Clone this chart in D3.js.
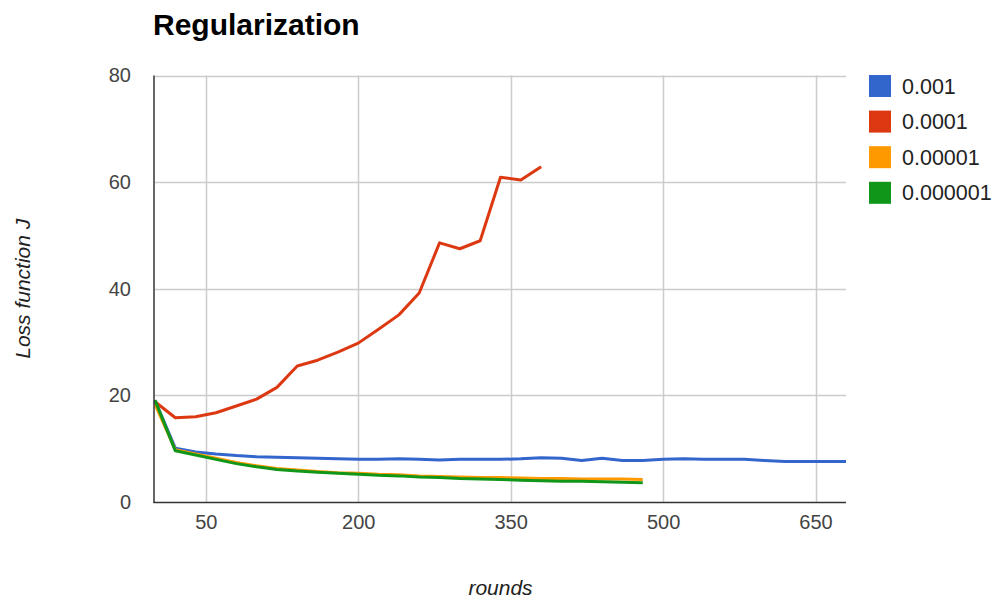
<!DOCTYPE html>
<html>
<head>
<meta charset="utf-8">
<script src="https://cdn.jsdelivr.net/npm/d3@7"></script>
<style>
  html, body { margin: 0; padding: 0; background: #fff; }
  svg { display: block; font-family: "Liberation Sans", Arial, sans-serif; }
</style>
</head>
<body>
<svg id="chart" width="1001" height="601"></svg>
<script>
// Training rounds, sampled every 20 rounds
const roundsLong = d3.range(0, 681, 20);   // 0 .. 680
const roundsRed = d3.range(0, 381, 20);    // 0 .. 380
const roundsShort = d3.range(0, 481, 20);  // 0 .. 480

// Loss function J per regularization strength
const loss0001 = [19.0, 10.1, 9.4, 9.0, 8.7, 8.5, 8.4, 8.3, 8.2, 8.1, 8.0, 8.0, 8.1, 8.0, 7.9, 8.0, 8.0, 8.0,
  8.1, 8.3, 8.2, 7.8, 8.2, 7.8, 7.8, 8.0, 8.1, 8.0, 8.0, 8.0, 7.8, 7.6, 7.6, 7.6, 7.6];
const loss00001 = [18.8, 15.8, 16.0, 16.75, 18.0, 19.3, 21.5, 25.5, 26.6, 28.1, 29.8, 32.4, 35.1, 39.2,
  48.6, 47.5, 49.0, 60.9, 60.4, 62.9];
const loss000001 = [18.3, 9.8, 9.0, 8.2, 7.4, 6.8, 6.3, 6.0, 5.7, 5.5, 5.4, 5.2, 5.1, 4.9, 4.8, 4.7,
  4.6, 4.6, 4.5, 4.4, 4.4, 4.3, 4.3, 4.3, 4.2];
const loss0000001 = [19.1, 9.6, 8.8, 8.0, 7.2, 6.6, 6.1, 5.8, 5.6, 5.4, 5.2, 5.0, 4.9, 4.7, 4.6, 4.4,
  4.3, 4.2, 4.1, 4.0, 3.9, 3.9, 3.8, 3.7, 3.6];

const seriesNames = ["0.001", "0.0001", "0.00001", "0.000001"];
const seriesColors = ["#3366cc", "#dc3912", "#ff9900", "#109618"];
const xTicks = [50, 200, 350, 500, 650];
const yTicks = [0, 20, 40, 60, 80];

const series = [
  { name: seriesNames[0], color: seriesColors[0], xs: roundsLong, ys: loss0001 },
  { name: seriesNames[1], color: seriesColors[1], xs: roundsRed, ys: loss00001 },
  { name: seriesNames[2], color: seriesColors[2], xs: roundsShort, ys: loss000001 },
  { name: seriesNames[3], color: seriesColors[3], xs: roundsShort, ys: loss0000001 }
];

const svg = d3.select("#chart");
const plot = { left: 155, right: 846, top: 75.5, bottom: 502 };

const x = d3.scaleLinear().domain([0, 680]).range([plot.left, plot.right]);
const y = d3.scaleLinear().domain([0, 80]).range([plot.bottom, plot.top]);

// Gridlines
const grid = svg.append("g");
grid.selectAll("line.h").data(yTicks.filter(d => d > 0)).join("line")
  .attr("x1", plot.left).attr("x2", plot.right)
  .attr("y1", d => Math.round(y(d)) + 0.5).attr("y2", d => Math.round(y(d)) + 0.5)
  .attr("stroke", "#cccccc").attr("stroke-width", 1.5);
grid.selectAll("line.v").data(xTicks).join("line")
  .attr("y1", plot.top).attr("y2", plot.bottom)
  .attr("x1", d => Math.round(x(d)) + 0.5).attr("x2", d => Math.round(x(d)) + 0.5)
  .attr("stroke", "#cccccc").attr("stroke-width", 1.5);

// Axes
const yAxis = d3.axisLeft(y).tickValues(yTicks).tickSize(0).tickPadding(24);
const xAxis = d3.axisBottom(x).tickValues(xTicks).tickSize(0).tickPadding(13);

const gy = svg.append("g").attr("transform", `translate(${plot.left},0)`).call(yAxis);
const gx = svg.append("g").attr("transform", `translate(0,${plot.bottom})`).call(xAxis);
[gy, gx].forEach(g => {
  g.select(".domain").remove();
  g.selectAll("text").attr("fill", "#444").style("font-size", "20px")
    .style("font-family", "'Liberation Sans', Arial, sans-serif");
});

// Series lines
const line = d3.line().x(d => x(d[0])).y(d => y(d[1]));
svg.append("g").selectAll("path").data(series).join("path")
  .attr("d", s => line(s.xs.map((v, i) => [v, s.ys[i]])))
  .attr("fill", "none")
  .attr("stroke", s => s.color)
  .attr("stroke-width", 3)
  .attr("stroke-linejoin", "round")
  .attr("stroke-linecap", "butt");

// Axis baselines
svg.append("line").attr("x1", plot.left - 1).attr("x2", plot.left - 1)
  .attr("y1", plot.top).attr("y2", plot.bottom + 1)
  .attr("stroke", "#333").attr("stroke-width", 1.5);
svg.append("line").attr("x1", plot.left - 1.5).attr("x2", plot.right)
  .attr("y1", plot.bottom + 0.5).attr("y2", plot.bottom + 0.5)
  .attr("stroke", "#333").attr("stroke-width", 1.5);

// Title
svg.append("text").attr("x", 153).attr("y", 35)
  .style("font-size", "30px").style("font-weight", "bold")
  .attr("fill", "#000").text("Regularization");

// Axis titles
svg.append("text").attr("x", (plot.left + plot.right) / 2).attr("y", 595)
  .attr("text-anchor", "middle").style("font-size", "21px").style("font-style", "italic")
  .attr("fill", "#222").text("rounds");
svg.append("text")
  .attr("transform", `translate(30,${(plot.top + plot.bottom) / 2}) rotate(-90)`)
  .attr("text-anchor", "middle").style("font-size", "21px").style("font-style", "italic")
  .attr("fill", "#222").text("Loss function J");

// Legend
const legend = svg.append("g").attr("transform", "translate(869,75)");
const items = legend.selectAll("g").data(series).join("g")
  .attr("transform", (d, i) => `translate(0,${i * 35.6})`);
items.append("rect").attr("width", 22).attr("height", 22).attr("fill", d => d.color);
items.append("text").attr("x", 33).attr("y", 18.5)
  .style("font-size", "21.5px").attr("fill", "#222").text(d => d.name);
</script>
</body>
</html>
